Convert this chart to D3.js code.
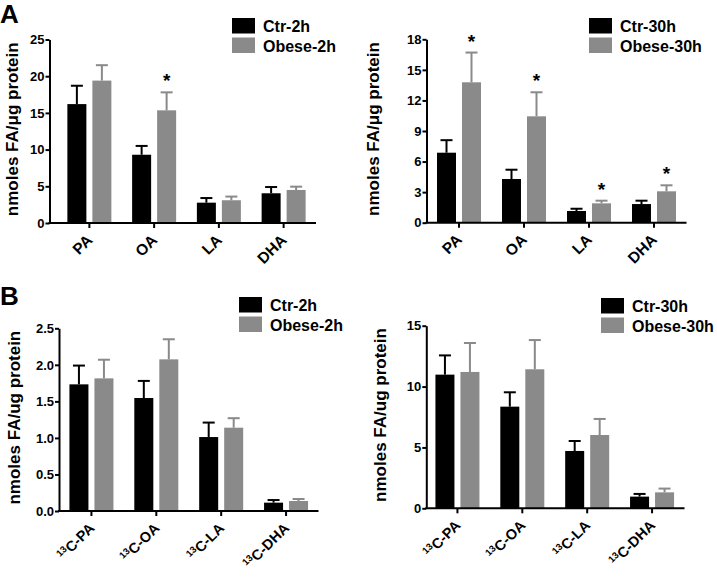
<!DOCTYPE html>
<html>
<head>
<meta charset="utf-8">
<script src="https://cdn.jsdelivr.net/npm/d3@7"></script>
<style>
  body { margin: 0; background: #fff; }
  svg { display: block; font-family: Arial, 'Liberation Sans', sans-serif; font-weight: bold; }
</style>
</head>
<body>
<script>
// fatty acids
var fattyAcids = ['PA', 'OA', 'LA', 'DHA']

var ctr2h = [16.2, 9.3, 2.77, 4.05]
var ctr2hErr = [2.5, 1.2, 0.63, 0.85]
var obese2h = [19.4, 15.35, 3.1, 4.5]
var obese2hErr = [2.1, 2.45, 0.5, 0.45]
var stars2h = [false, true, false, false]

var ctr30h = [6.87, 4.29, 1.15, 1.83]
var ctr30hErr = [1.23, 0.91, 0.22, 0.33]
var obese30h = [13.78, 10.44, 1.9, 3.08]
var obese30hErr = [2.92, 2.36, 0.26, 0.59]
var stars30h = [true, true, true, true]

var c13ctr2h = [1.733, 1.546, 1.012, 0.114]
var c13ctr2hErr = [0.257, 0.234, 0.198, 0.036]
var c13obese2h = [1.815, 2.075, 1.14, 0.137]
var c13obese2hErr = [0.255, 0.275, 0.13, 0.027]

var c13ctr30h = [10.98, 8.35, 4.71, 0.96]
var c13ctr30hErr = [1.58, 1.18, 0.82, 0.22]
var c13obese30h = [11.2, 11.42, 6.02, 1.31]
var c13obese30hErr = [2.38, 2.4, 1.32, 0.31]

var ticksA2h = [0, 5, 10, 15, 20, 25]
var ticksA30h = [0, 3, 6, 9, 12, 15, 18]
var ticksB2h = [0, 0.5, 1.0, 1.5, 2.0, 2.5]
var ticksB30h = [0, 5, 10, 15]

var colors = ['#000000', '#8a8a8a']

var svg = d3.select('body').append('svg')
  .attr('width', 717)
  .attr('height', 578)

svg.append('text').attr('x', 0).attr('y', 23).style('font-size', '26px').text('A')
svg.append('text').attr('x', 0).attr('y', 305).style('font-size', '26px').text('B')

var panels = [
  { axisX: 49.5, y0: 223, yTop: 39.5, band: [57, 316], max: 25, ticks: ticksA2h, fmt: d3.format('d'),
    series: [[ctr2h, ctr2hErr], [obese2h, obese2hErr]], stars: stars2h, names: ['Ctr-2h', 'Obese-2h'],
    legX: 232, legY: 18, ylab: 'nmoles FA/\u03bcg protein', ylabX: 17.5, c13: false },
  { axisX: 426.5, y0: 222.7, yTop: 39.3, band: [426.5, 686.5], max: 18, ticks: ticksA30h, fmt: d3.format('d'),
    series: [[ctr30h, ctr30hErr], [obese30h, obese30hErr]], stars: stars30h, names: ['Ctr-30h', 'Obese-30h'],
    legX: 589, legY: 18, ylab: 'nmoles FA/\u03bcg protein', ylabX: 378.5, c13: false },
  { axisX: 59, y0: 511, yTop: 328.3, band: [59, 318.5], max: 2.5, ticks: ticksB2h, fmt: d3.format('.1f'),
    series: [[c13ctr2h, c13ctr2hErr], [c13obese2h, c13obese2hErr]], stars: null, names: ['Ctr-2h', 'Obese-2h'],
    legX: 239, legY: 297, ylab: 'nmoles FA/ug protein', ylabX: 20, c13: true },
  { axisX: 426.3, y0: 508.3, yTop: 325.7, band: [425, 684.5], max: 15, ticks: ticksB30h, fmt: d3.format('d'),
    series: [[c13ctr30h, c13ctr30hErr], [c13obese30h, c13obese30hErr]], stars: null, names: ['Ctr-30h', 'Obese-30h'],
    legX: 601, legY: 298, ylab: 'nmoles FA/ug protein', ylabX: 386, c13: true }
]

panels.forEach(function (p) {
  var y = d3.scaleLinear().domain([0, p.max]).range([p.y0, p.yTop])
  var x0 = d3.scaleBand().domain(fattyAcids).range(p.band)
  var x1 = d3.scaleBand().domain([0, 1]).range([0, 44]).paddingInner(0.24)
  var off = x0.bandwidth() / 2 - 22

  var g = svg.append('g')

  // bars + upper error whiskers
  p.series.forEach(function (s, si) {
    fattyAcids.forEach(function (fa, i) {
      var bx = x0(fa) + off + x1(si)
      var cx = bx + x1.bandwidth() / 2
      var top = s[0][i] + s[1][i]
      g.append('line')
        .attr('x1', cx).attr('x2', cx)
        .attr('y1', y(s[0][i])).attr('y2', y(top))
        .attr('stroke', colors[si]).attr('stroke-width', 2)
      g.append('line')
        .attr('x1', cx - 6).attr('x2', cx + 6)
        .attr('y1', y(top)).attr('y2', y(top))
        .attr('stroke', colors[si]).attr('stroke-width', 2)
      g.append('rect')
        .attr('x', bx).attr('width', x1.bandwidth())
        .attr('y', y(s[0][i])).attr('height', y(0) - y(s[0][i]))
        .attr('fill', colors[si])
      if (si === 1 && p.stars && p.stars[i]) {
        g.append('text')
          .attr('x', cx).attr('y', y(top) - 5)
          .attr('text-anchor', 'middle')
          .style('font-size', '19px')
          .text('*')
      }
    })
  })

  // y axis
  var yAxis = d3.axisLeft(y).tickValues(p.ticks).tickFormat(p.fmt).tickSize(4).tickSizeOuter(0)
  var ya = g.append('g').attr('transform', 'translate(' + p.axisX + ',0)').call(yAxis)
  ya.select('.domain').attr('stroke-width', 2)
  ya.selectAll('.tick line').attr('stroke-width', 2)
  ya.selectAll('.tick text').style('font-size', '13px').style('font-family', 'Arial, Liberation Sans, sans-serif').style('font-weight', 'bold').attr('x', -5)

  // x axis
  g.append('line')
    .attr('x1', p.axisX - 1).attr('x2', p.band[1])
    .attr('y1', p.y0).attr('y2', p.y0)
    .attr('stroke', '#000').attr('stroke-width', 2)
  fattyAcids.forEach(function (fa) {
    var cx = x0(fa) + x0.bandwidth() / 2
    g.append('line')
      .attr('x1', cx).attr('x2', cx)
      .attr('y1', p.y0).attr('y2', p.y0 + 5)
      .attr('stroke', '#000').attr('stroke-width', 2)
    var t = g.append('text')
      .attr('transform', 'translate(' + (cx + 4) + ',' + (p.y0 + 18) + ') rotate(-45)')
      .attr('text-anchor', 'end')
      .style('font-size', p.c13 ? '14.5px' : '15.5px')
    if (p.c13) {
      t.append('tspan').style('font-size', '9.5px').attr('dy', -5).text('13')
      t.append('tspan').attr('dy', 5).text('C-' + fa)
    } else {
      t.text(fa)
    }
  })

  // y label
  g.append('text')
    .attr('transform', 'translate(' + p.ylabX + ',' + ((p.y0 + p.yTop) / 2 - 2) + ') rotate(-90)')
    .attr('text-anchor', 'middle')
    .style('font-size', '17px')
    .text(p.ylab)

  // legend
  p.names.forEach(function (n, i) {
    g.append('rect')
      .attr('x', p.legX).attr('y', p.legY + i * 19.5)
      .attr('width', 23).attr('height', 15.5)
      .attr('fill', colors[i])
    g.append('text')
      .attr('x', p.legX + 31).attr('y', p.legY + i * 19.5 + 14)
      .style('font-size', '16px')
      .text(n)
  })
})
</script>
</body>
</html>
